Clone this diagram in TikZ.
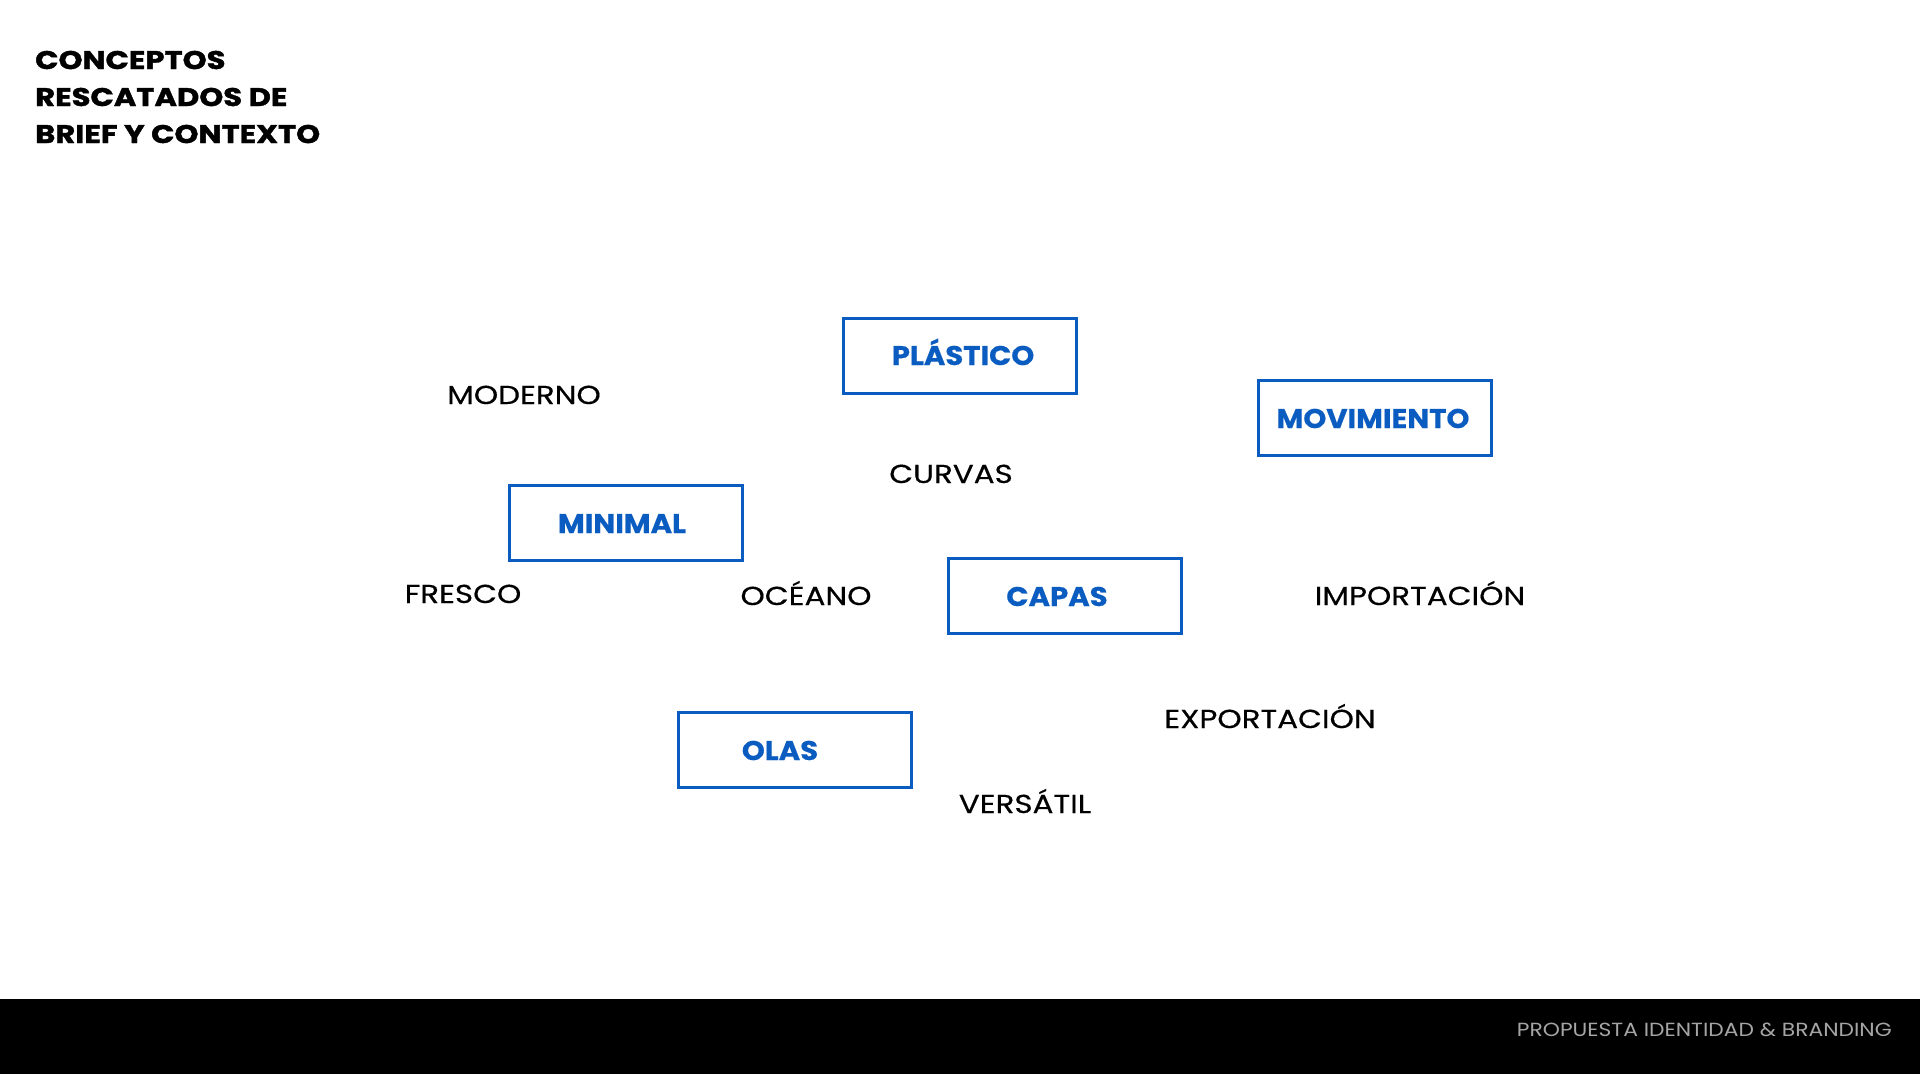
\documentclass[tikz,border=0pt]{standalone}
\usepackage{fontspec}
\setmainfont{Poppins}
\newfontfamily\wordfont{Poppins}[FakeStretch=1.19,FakeBold=0.4]
\newfontfamily\boxfont{Poppins}[FakeStretch=1.08,BoldFeatures={FakeBold=0.5}]
\newfontfamily\titlefont{Poppins}[FakeStretch=1.2,BoldFeatures={FakeBold=1.5}]
\newfontfamily\footfont{Poppins}[FakeStretch=1.15]
\definecolor{boxblue}{RGB}{10,92,192}
\definecolor{footgray}{RGB}{165,165,165}
\begin{document}
\begin{tikzpicture}[x=1pt,y=-1pt,
  concept/.style={draw=boxblue,line width=3.5pt,minimum width=233pt,minimum height=75pt,inner sep=0pt},
  boxtext/.style={anchor=base,inner sep=0pt,text=boxblue,font=\boxfont\fontsize{27}{30}\selectfont\bfseries},
  word/.style={anchor=base,inner sep=0pt,text=black,font=\wordfont\fontsize{26}{28}\selectfont},
  ttl/.style={anchor=base west,inner sep=0pt,font=\titlefont\fontsize{25.5}{28}\selectfont\bfseries}]
\useasboundingbox (0,0) rectangle (1920,1074);
\fill[white] (0,0) rectangle (1920,999);
\fill[black] (0,999) rectangle (1920,1074);
% title
\node[ttl] (t1) at (35,69) {CONCEPTOS};
\node[ttl] (t2) at (35,106) {RESCATADOS DE};
\node[ttl] (t3) at (35,143) {BRIEF Y CONTEXTO};
% boxes
\node[concept] (plastico) at (960,356) {};
\node[boxtext] (plasticoT) at (963,365) {PLÁSTICO};
\node[concept] (movimiento) at (1375,418) {};
\node[boxtext] (movimientoT) at (1373,428) {MOVIMIENTO};
\node[concept] (minimal) at (626,523) {};
\node[boxtext] (minimalT) at (622,533) {MINIMAL};
\node[concept] (capas) at (1065,596) {};
\node[boxtext] (capasT) at (1057,606) {CAPAS};
\node[concept] (olas) at (795,750) {};
\node[boxtext] (olasT) at (780,760) {OLAS};
% words
\node[word] (moderno) at (524,404) {MODERNO};
\node[word] (curvas) at (951,483) {CURVAS};
\node[word] (fresco) at (463,603) {FRESCO};
\node[word] (oceano) at (806,605) {OCÉANO};
\node[word] (importacion) at (1420,605) {IMPORTACIÓN};
\node[word] (exportacion) at (1270,728) {EXPORTACIÓN};
\node[word] (versatil) at (1025,813) {VERSÁTIL};
% footer
\node[anchor=base east,inner sep=0pt,text=footgray,font=\footfont\fontsize{19}{22}\selectfont] (footer) at (1892,1036) {PROPUESTA IDENTIDAD \& BRANDING};
\end{tikzpicture}
\end{document}
